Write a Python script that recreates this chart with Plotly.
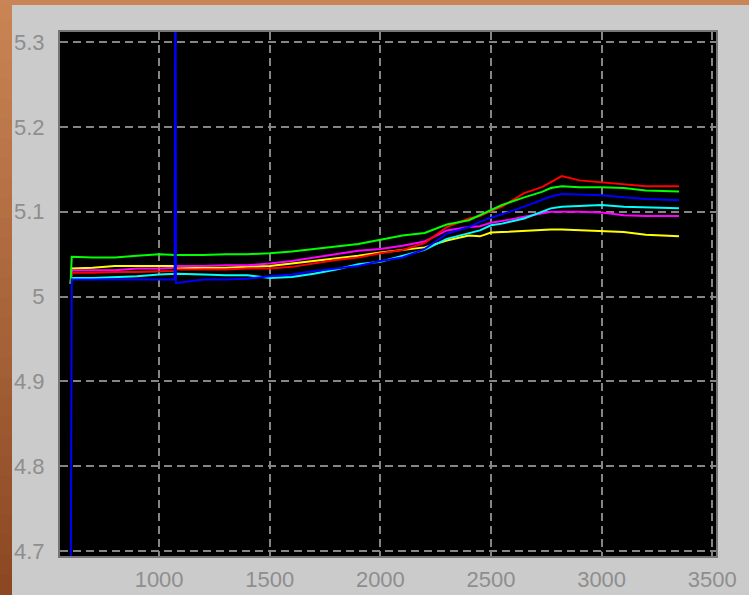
import plotly.graph_objects as go

# Sample positions shared by all six traces
x_vals = [600, 605, 700, 800, 900, 1000, 1070, 1074, 1076, 1080, 1200, 1300, 1400,
          1500, 1600, 1700, 1800, 1900, 2000, 2100, 2200, 2300, 2400, 2450, 2500,
          2550, 2650, 2730, 2770, 2820, 2900, 3000, 3100, 3200, 3350]

green = [5.015, 5.047, 5.046, 5.046, 5.048, 5.050, 5.049, 5.049, 5.049, 5.049, 5.049,
         5.050, 5.050, 5.051, 5.053, 5.056, 5.059, 5.062, 5.067, 5.072, 5.075, 5.085,
         5.090, 5.096, 5.102, 5.108, 5.117, 5.1235, 5.128, 5.130, 5.129, 5.129, 5.128,
         5.125, 5.124]

red = [5.015, 5.028, 5.028, 5.029, 5.029, 5.030, 5.030, 5.031, 5.032, 5.032, 5.032,
       5.032, 5.033, 5.033, 5.035, 5.039, 5.043, 5.046, 5.051, 5.055, 5.063, 5.082,
       5.092, 5.095, 5.101, 5.106, 5.122, 5.129, 5.135, 5.142, 5.137, 5.1345, 5.132,
       5.130, 5.130]

blue = [4.60, 5.020, 5.020, 5.020, 5.020, 5.020, 5.020, 5.45, 5.016, 5.016, 5.020,
        5.020, 5.021, 5.024, 5.026, 5.030, 5.033, 5.036, 5.042, 5.046, 5.056, 5.074,
        5.082, 5.088, 5.093, 5.097, 5.106, 5.1137, 5.118, 5.121, 5.120, 5.1196, 5.117,
        5.115, 5.1137]

cyan = [5.015, 5.022, 5.022, 5.023, 5.024, 5.026, 5.027, 5.027, 5.027, 5.027, 5.026,
        5.025, 5.025, 5.022, 5.023, 5.027, 5.032, 5.038, 5.041, 5.048, 5.055, 5.068,
        5.075, 5.078, 5.084, 5.086, 5.092, 5.100, 5.104, 5.106, 5.107, 5.108, 5.106,
        5.105, 5.104]

magenta = [5.015, 5.031, 5.031, 5.031, 5.033, 5.033, 5.034, 5.035, 5.036, 5.036, 5.036,
           5.037, 5.037, 5.039, 5.042, 5.046, 5.050, 5.054, 5.056, 5.060, 5.065, 5.078,
           5.082, 5.083, 5.087, 5.089, 5.094, 5.098, 5.100, 5.100, 5.100, 5.099, 5.096,
           5.095, 5.095]

yellow = [5.015, 5.033, 5.034, 5.036, 5.036, 5.036, 5.036, 5.035, 5.034, 5.033, 5.034,
          5.034, 5.035, 5.036, 5.039, 5.042, 5.045, 5.048, 5.052, 5.055, 5.058, 5.066,
          5.072, 5.071, 5.0755, 5.076, 5.0775, 5.078, 5.079, 5.079, 5.078, 5.077, 5.076,
          5.073, 5.071]

x_ticks = [1000, 1500, 2000, 2500, 3000, 3500]
y_ticks = [4.7, 4.8, 4.9, 5.0, 5.1, 5.2, 5.3]
y_tick_text = ["4.7", "4.8", "4.9", "5", "5.1", "5.2", "5.3"]

series = [
    ("yellow", yellow, "#ffff00"),
    ("magenta", magenta, "#ff00ff"),
    ("cyan", cyan, "#00ffff"),
    ("red", red, "#ff0000"),
    ("green", green, "#00ff00"),
    ("blue", blue, "#0000ff"),
]

fig = go.Figure()
for name, ys, color in series:
    fig.add_trace(go.Scatter(x=x_vals, y=ys, mode="lines", name=name,
                             line=dict(color=color, width=2)))

W, H = 749, 595
ML, MR, MT, MB = 60, 33, 32, 39
PW, PH = W - ML - MR, H - MT - MB


def px_x(px):
    return (px - ML) / PW


def px_y(py):
    return (H - MB - py) / PH


# Window frame: orange band on top and a darkening strip on the left
shapes = []
n = 30
c0 = (201, 132, 84)
c1 = (139, 72, 34)
for i in range(n):
    t = i / (n - 1)
    col = tuple(round(a + (b - a) * t) for a, b in zip(c0, c1))
    y0 = H * i / n
    y1 = H * (i + 1) / n + 1
    shapes.append(dict(type="rect", xref="paper", yref="paper", layer="above",
                       x0=px_x(0), x1=px_x(12), y0=px_y(y1), y1=px_y(y0),
                       fillcolor="rgb(%d,%d,%d)" % col, line=dict(width=0)))
shapes.append(dict(type="rect", xref="paper", yref="paper", layer="above",
                   x0=px_x(0), x1=px_x(W), y0=px_y(5), y1=px_y(0),
                   fillcolor="rgb(201,133,86)", line=dict(width=0)))

tick_font = dict(family="Liberation Sans Narrow, Liberation Sans, Arial", size=22,
                 color="#8e8e8e")
axis_common = dict(
    showgrid=True, gridcolor="#858585", gridwidth=1.5, griddash="8px,5px",
    ticks="inside", ticklen=5, tickcolor="#808080", tickwidth=1,
    showline=True, mirror=True, linecolor="#767676", linewidth=2,
    zeroline=False, tickfont=tick_font, fixedrange=True, automargin=False,
)

fig.update_layout(
    width=W, height=H,
    margin=dict(l=ML, r=MR, t=MT, b=MB, pad=0, autoexpand=False),
    paper_bgcolor="#cbcbcb",
    plot_bgcolor="#000000",
    showlegend=False,
    shapes=shapes,
    xaxis=dict(range=[552, 3517], tickvals=x_ticks, ticklabelstandoff=3, **axis_common),
    yaxis=dict(range=[4.694, 5.312], tickvals=y_ticks, ticktext=y_tick_text,
               ticklabelstandoff=9, **axis_common),
)

fig.write_html("out.html")
